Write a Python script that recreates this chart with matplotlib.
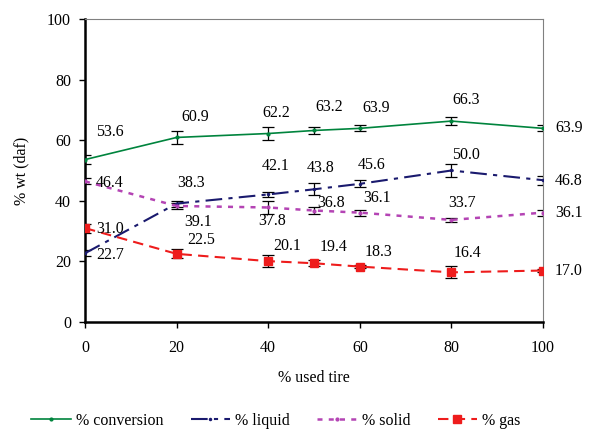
import numpy as np
import matplotlib
matplotlib.use("Agg")
import matplotlib.pyplot as plt

# -------------------------------------------------------------
# Data
# -------------------------------------------------------------
used_tire = [0, 20, 40, 50, 60, 80, 100]

conversion = [53.6, 60.9, 62.2, 63.2, 63.9, 66.3, 63.9]
liquid = [22.7, 39.1, 42.1, 43.8, 45.6, 50.0, 46.8]
solid = [46.4, 38.3, 37.8, 36.8, 36.1, 33.7, 36.1]
gas = [31.0, 22.5, 20.1, 19.4, 18.3, 16.4, 17.0]

conversion_err = [1.5, 2.0, 2.0, 1.2, 1.0, 1.2, 1.0]
liquid_err = [1.0, 1.0, 0.7, 2.0, 1.2, 2.0, 1.5]
solid_err = [1.0, 1.0, 2.0, 1.0, 1.0, 0.7, 1.0]
gas_err = [1.5, 1.5, 2.0, 1.0, 0.5, 2.0, 0.5]

# label offsets (pixels) for the value annotations
conv_off = [(11, 28), (5, 20), (-6, 21), (1, 23), (3, 20), (1, 21), (12, 0)]
liq_off = [(11, -2), (8, -18), (-6, 28), (-7, 21), (-2, 19), (1, 15), (12, -1)]
sol_off = [(11, -2), (1, 23), (-10, -14), (3, 8), (3, 15), (-3, 17), (12, 0)]
gas_off = [(11, -1), (11, 14), (5, 15), (6, 16), (5, 15), (2, 19), (12, 0)]

plt.rcParams["font.family"] = ["Liberation Serif", "DejaVu Serif"]
plt.rcParams["font.size"] = 11.5

fig = plt.figure(figsize=(5.92, 4.30), dpi=100)
ax = fig.add_axes([0.1436, 0.251, 0.7737, 0.705])

series = [
    ("% conversion", conversion, conversion_err, conv_off,
     dict(color="#00843D", linestyle="-", marker="o", markersize=2, linewidth=1.2)),
    ("% liquid", liquid, liquid_err, liq_off,
     dict(color="#1A1A6E", linestyle=(0, (8, 3, 2, 3)), marker="o", markersize=1.5, linewidth=1.5)),
    ("% solid", solid, solid_err, sol_off,
     dict(color="#B444B4", linestyle=(0, (2, 2.5)), marker="o", markersize=2, linewidth=1.8)),
    ("% gas", gas, gas_err, gas_off,
     dict(color="#EE1C1C", linestyle=(0, (5, 3)), marker="s", markersize=6, linewidth=1.5)),
]

for name, vals, errs, offs, style in series:
    ax.errorbar(used_tire, vals, yerr=errs, fmt="none", ecolor="black",
                elinewidth=0.9, capsize=4, capthick=0.9, zorder=2)
    ax.plot(used_tire, vals, label=name, zorder=3, **style)
    for x, y, (dx, dy) in zip(used_tire, vals, offs):
        ax.annotate(f"{y:.1f}", (x, y), xytext=(dx, dy), textcoords="offset pixels",
                    ha="left", va="center", fontsize=11.5, annotation_clip=False)

ax.set_xlim(0, 100)
ax.set_ylim(0, 100)
ax.set_xticks([0, 20, 40, 60, 80, 100])
ax.set_yticks([0, 20, 40, 60, 80, 100])
ax.tick_params(direction="out", length=4, width=1, labelsize=11.5)
ax.tick_params(axis="y", pad=6)
ax.tick_params(axis="x", pad=9)
ax.set_xlabel("% used tire", fontsize=11.5, labelpad=10)
ax.set_ylabel("% wt (daf)", fontsize=11.5, labelpad=13)

ax.spines["left"].set_linewidth(1.8)
ax.spines["bottom"].set_linewidth(1.8)
ax.spines["top"].set_color("#808080")
ax.spines["right"].set_color("#808080")

handles, labels = ax.get_legend_handles_labels()
fig.legend(handles, labels, loc="lower center", bbox_to_anchor=(0.466, -0.03),
           ncol=4, frameon=False, fontsize=11.5, handlelength=2.5,
           columnspacing=1.7, handletextpad=0.3)

fig.savefig("out.png", dpi=100)
